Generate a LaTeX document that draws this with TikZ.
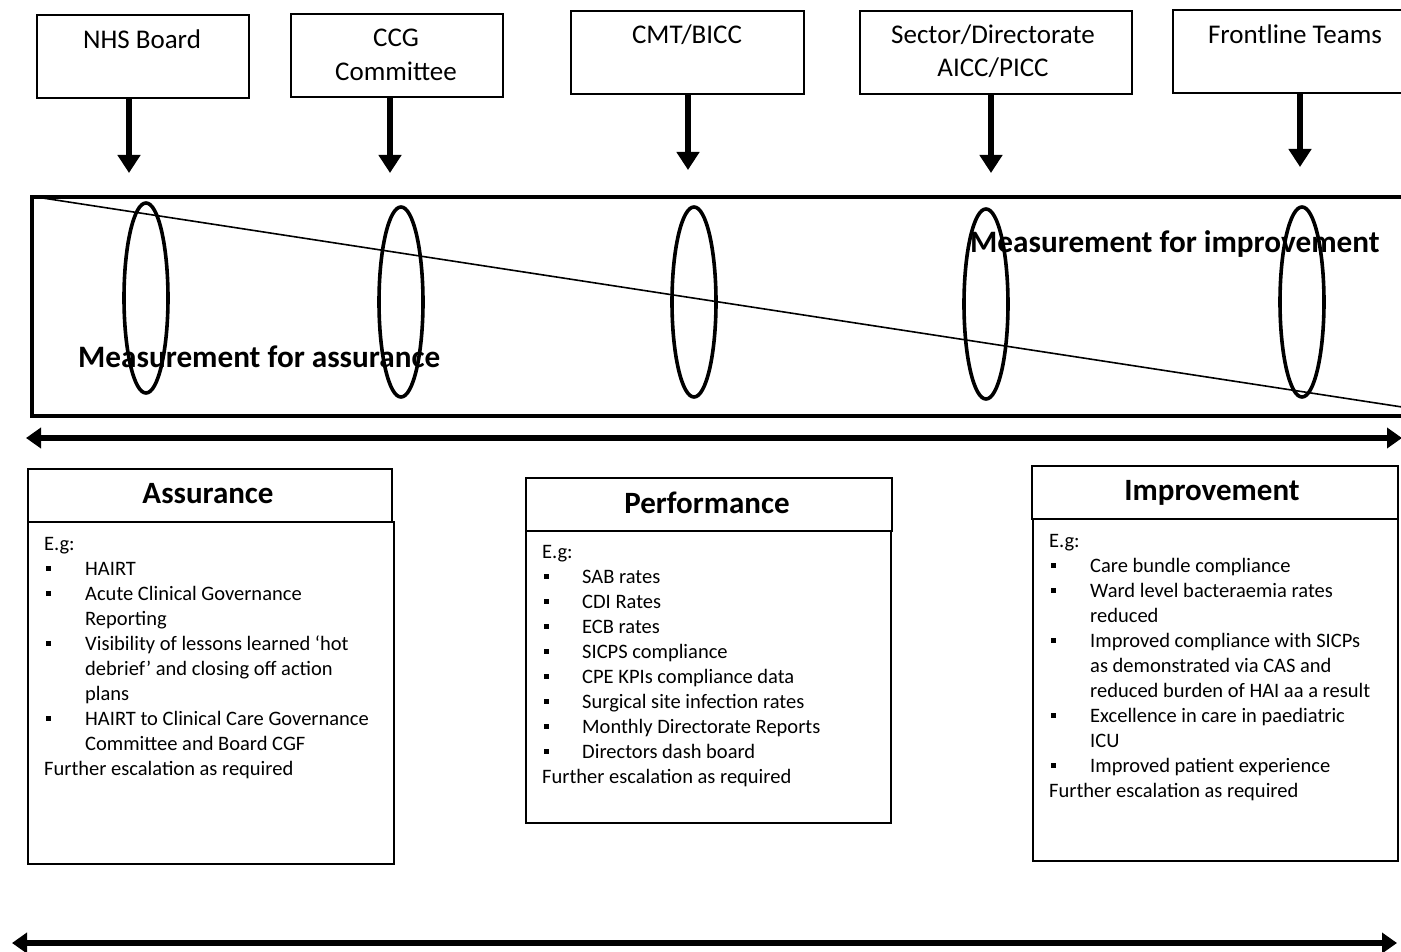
\documentclass[tikz,border=0pt]{standalone}
\usepackage{fontspec}
\setmainfont{Carlito}
\usetikzlibrary{arrows.meta,shapes.geometric}
\newcommand{\blt}[1]{\makebox[#1][l]{\hspace*{2pt}\rule[4.5pt]{5pt}{5pt}}}
\newcommand{\contind}[1]{\hspace*{#1}}
\begin{document}
\begin{tikzpicture}[x=1pt,y=-1pt,
  topbox/.style={draw, line width=2.4pt, anchor=north west, inner sep=0pt},
  toptext/.style={anchor=base, inner sep=0pt, font=\fontsize{27}{34}\selectfont},
  downarr/.style={line width=6pt, -{Triangle[width=22pt,length=18pt]}},
  dblarr/.style={line width=5.5pt, {Triangle[width=20pt,length=15pt]}-{Triangle[width=20pt,length=15pt]}},
  ell/.style={ellipse, draw, line width=3.6pt, inner sep=0pt, minimum width=44pt, minimum height=190pt},
  bandtext/.style={anchor=base west, inner sep=0pt, font=\fontsize{31.2}{36}\selectfont\bfseries},
  hbox/.style={draw, line width=2pt, anchor=north west, inner sep=0pt},
  htext/.style={anchor=base, inner sep=0pt, font=\fontsize{31}{36}\selectfont\bfseries},
  ltext/.style={anchor=base west, inner sep=0pt, font=\fontsize{20.5}{25}\selectfont}
]
\useasboundingbox (0,0) rectangle (1401,952);
\clip (0,0) rectangle (1401,952);

% top boxes
\node[topbox, minimum width=212pt, minimum height=83pt] (b1) at (36,14) {};
\node[topbox, minimum width=212pt, minimum height=83pt] (b2) at (290,13) {};
\node[topbox, minimum width=233pt, minimum height=83pt] (b3) at (570,10) {};
\node[topbox, minimum width=272pt, minimum height=83pt] (b4) at (859,10) {};
\node[topbox, minimum width=240pt, minimum height=83pt] (b5) at (1172,9) {};

\node[toptext] (t1) at (142,49) {NHS Board};
\node[toptext] (t2a) at (396,47) {CCG};
\node[toptext] (t2b) at (396,81) {Committee};
\node[toptext] (t3) at (687,44) {CMT/BICC};
\node[toptext] (t4a) at (993,44) {Sector/Directorate};
\node[toptext] (t4b) at (993,77) {AICC/PICC};
\node[toptext] (t5) at (1295,44) {Frontline Teams};

% down arrows
\coordinate (p1) at (129,173);
\coordinate (p2) at (390,173);
\coordinate (p3) at (688,170);
\coordinate (p4) at (991,173);
\coordinate (p5) at (1300,167);
\draw[downarr] (b1.south -| p1) -- (p1);
\draw[downarr] (b2.south -| p2) -- (p2);
\draw[downarr] (b3.south -| p3) -- (p3);
\draw[downarr] (b4.south -| p4) -- (p4);
\draw[downarr] (b5.south -| p5) -- (p5);

% band
\node[draw, line width=4pt, anchor=north west, inner sep=0pt, minimum width=1385pt, minimum height=219pt] (band) at (30,195) {};
\coordinate (d0) at (36,197);
\coordinate (d1) at (1402,407);
\draw[line width=1.6pt] (d0) -- (d1);

\node[bandtext] (massur) at (78,367) {Measurement for assurance};
\node[bandtext] (mimpr) at (970,253) {Measurement for improvement};

\node[ell] (e1) at (146,298) {};
\node[ell] (e2) at (401,302) {};
\node[ell] (e3) at (694,302) {};
\node[ell] (e4) at (986,304) {};
\node[ell] (e5) at (1302,302) {};

% double arrows
\coordinate (a1l) at (26,438);
\coordinate (a1r) at (1402,438);
\draw[dblarr] (a1l) -- (a1r);
\coordinate (a2l) at (12,943);
\coordinate (a2r) at (1397,943);
\draw[dblarr] (a2l) -- (a2r);

% Assurance
\node[hbox, minimum width=364pt, minimum height=53pt] (ah) at (27,468) {};
\node[hbox, minimum width=366pt, minimum height=342pt] (ab) at (27,521) {};
\node[htext] (aht) at (208,503) {Assurance};
\node[ltext] (al) at (44,550) {\parbox[t]{345pt}{\fontsize{20.5}{25}\selectfont
E.g:\\
\blt{41pt}HAIRT\\
\blt{41pt}Acute Clinical Governance\\
\contind{41pt}Reporting\\
\blt{41pt}Visibility of lessons learned ‘hot\\
\contind{41pt}debrief’ and closing off action\\
\contind{41pt}plans\\
\blt{41pt}HAIRT to Clinical Care Governance\\
\contind{41pt}Committee and Board CGF\\
Further escalation as required}};

% Performance
\node[hbox, minimum width=366pt, minimum height=53pt] (ph) at (525,477) {};
\node[hbox, minimum width=365pt, minimum height=292pt] (pb) at (525,530) {};
\node[htext] (pht) at (707,513) {Performance};
\node[ltext] (pl) at (542,558) {\parbox[t]{345pt}{\fontsize{20.5}{25}\selectfont
E.g:\\
\blt{40pt}SAB rates\\
\blt{40pt}CDI Rates\\
\blt{40pt}ECB rates\\
\blt{40pt}SICPS compliance\\
\blt{40pt}CPE KPIs compliance data\\
\blt{40pt}Surgical site infection rates\\
\blt{40pt}Monthly Directorate Reports\\
\blt{40pt}Directors dash board\\
Further escalation as required}};

% Improvement
\node[hbox, minimum width=366pt, minimum height=53pt] (ih) at (1031,465) {};
\node[hbox, minimum width=365pt, minimum height=342pt] (ib) at (1032,518) {};
\node[htext] (iht) at (1212,500) {Improvement};
\node[ltext] (il) at (1049,547) {\parbox[t]{345pt}{\fontsize{20.5}{25}\selectfont
E.g:\\
\blt{41pt}Care bundle compliance\\
\blt{41pt}Ward level bacteraemia rates\\
\contind{41pt}reduced\\
\blt{41pt}Improved compliance with SICPs\\
\contind{41pt}as demonstrated via CAS and\\
\contind{41pt}reduced burden of HAI aa a result\\
\blt{41pt}Excellence in care in paediatric\\
\contind{41pt}ICU\\
\blt{41pt}Improved patient experience\\
Further escalation as required}};
\end{tikzpicture}
\end{document}
